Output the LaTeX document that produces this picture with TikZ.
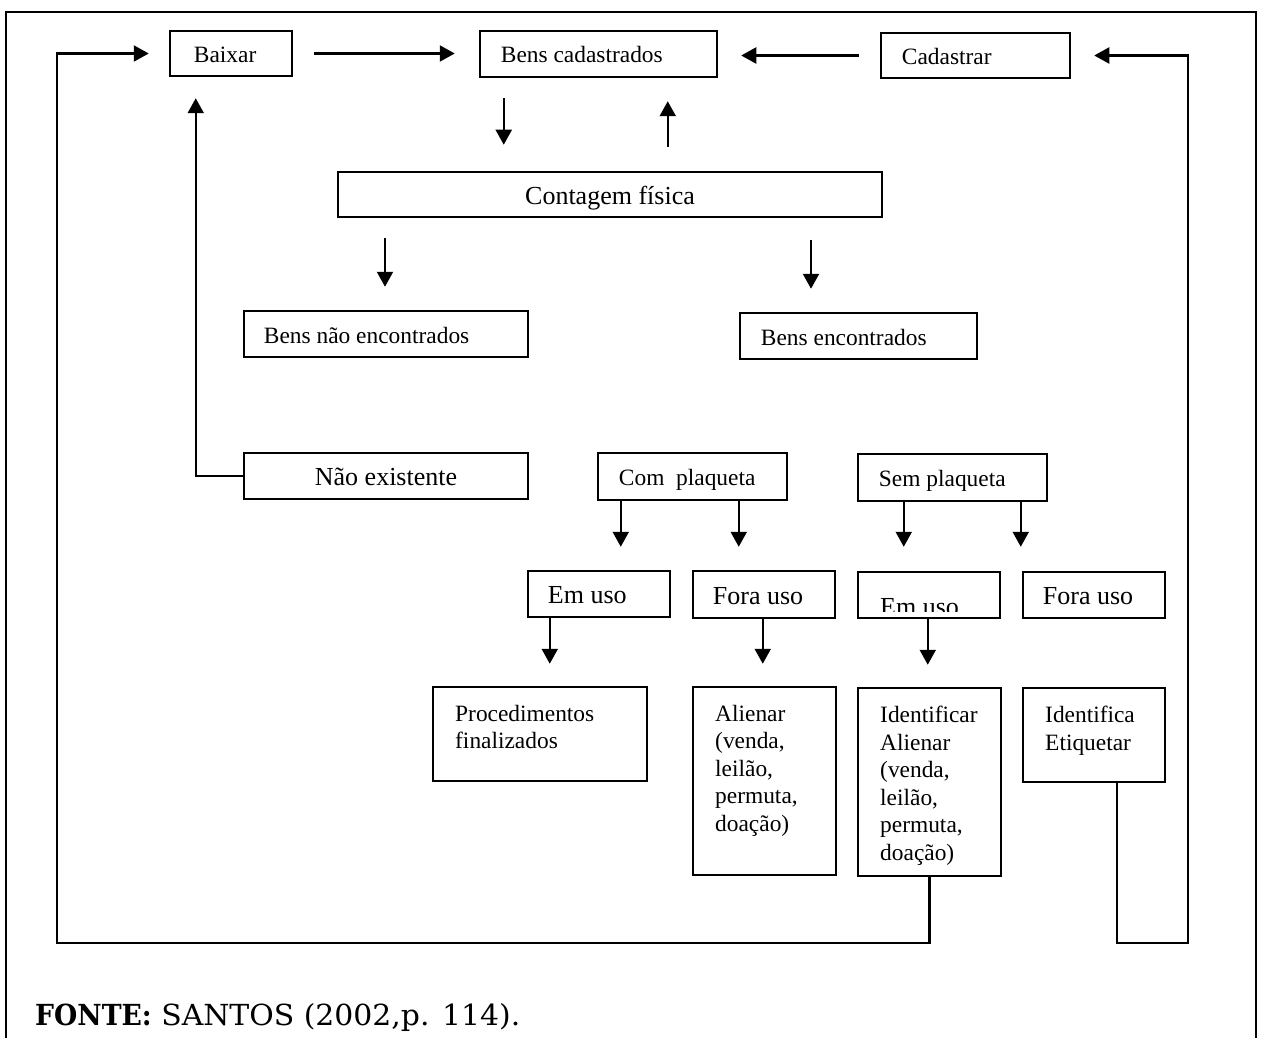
\documentclass[tikz,border=0pt]{standalone}
\usepackage{fontspec}
\setmainfont{Liberation Serif}
\newfontfamily\fonteR[FakeStretch=1.03]{DejaVu Serif}
\newfontfamily\fonteB[FakeStretch=0.92]{DejaVu Serif}
\usetikzlibrary{arrows.meta,calc}
\begin{document}
\begin{tikzpicture}[x=1pt,y=-1pt,
  box/.style={draw, line width=2.5pt, rectangle, inner sep=0pt},
  txt/.style={font=\fontsize{23.4}{27.5}\selectfont, inner sep=0pt, text height=16pt, text depth=5pt, yshift=-3.5pt},
  txtbig/.style={font=\fontsize{26}{30}\selectfont, inner sep=0pt, text height=18pt, text depth=6pt, yshift=-3.5pt},
  multi/.style={font=\fontsize{23.4}{27.5}\selectfont, inner sep=0pt, align=left, anchor=north west},
  arr/.style={line width=2.2pt, -{Triangle[width=16pt,length=15pt]}},
  frame/.style={line width=2pt}]
\useasboundingbox (0,0) rectangle (1263,1038);
\newcommand\mkbox[5]{\node[box, minimum width={#4-#2}, minimum height={#5-#3}] (#1) at ({(#2+#4)/2},{(#3+#5)/2}) {};}
% frame
\draw[frame] (6,1038) -- (6,12) -- (1256,12) -- (1256,1038);
% boxes
\mkbox{baixar}{170}{31}{292}{76}
\mkbox{benscad}{480}{31}{717}{77}
\mkbox{cadastrar}{881}{33}{1070}{78}
\mkbox{contagem}{338}{172}{882}{217}
\mkbox{naoenc}{244}{311}{528}{357}
\mkbox{enc}{740}{313}{977}{359}
\mkbox{naoex}{244}{453}{528}{499}
\mkbox{com}{598}{453}{787}{500}
\mkbox{sem}{858}{454}{1047}{501}
\mkbox{emusoA}{528}{571}{670}{617}
\mkbox{foraA}{693}{571}{835}{618}
\mkbox{emusoB}{858}{572}{1000}{618}
\mkbox{foraB}{1023}{572}{1165}{618}
\mkbox{proc}{433}{687}{647}{781}
\mkbox{alien}{693}{687}{836}{875}
\mkbox{ident}{858}{688}{1001}{876}
\mkbox{etiq}{1023}{688}{1165}{782}
% texts
\node[txt, anchor=west] (t-baixar) at ([xshift=25pt]baixar.west) {Baixar};
\node[txt, anchor=west] (t-benscad) at ([xshift=22pt]benscad.west) {Bens cadastrados};
\node[txt, anchor=west] (t-cadastrar) at ([xshift=22pt]cadastrar.west) {Cadastrar};
\node[txtbig] (t-contagem) at (contagem.center) {Contagem física};
\node[txt, anchor=west] (t-naoenc) at ([xshift=21pt]naoenc.west) {Bens não encontrados};
\node[txt, anchor=west] (t-enc) at ([xshift=22pt]enc.west) {Bens encontrados};
\node[txtbig] (t-naoex) at (naoex.center) {Não existente};
\node[txt, anchor=west] (t-com) at ([xshift=22pt]com.west) {Com\ \ plaqueta};
\node[txt, anchor=west] (t-sem) at ([xshift=22pt]sem.west) {Sem plaqueta};
\node[txtbig, anchor=west] (t-emusoA) at ([xshift=21pt]emusoA.west) {Em uso};
\node[txtbig, anchor=west] (t-foraA) at ([xshift=21pt]foraA.west) {Fora uso};
\begin{scope}
  \clip (860,574) rectangle (998,611);
  \node[font=\fontsize{26}{30}\selectfont, inner sep=0pt, anchor=base west] (t-emusoB) at (880,615) {Em uso};
\end{scope}
\node[txtbig, anchor=west] (t-foraB) at ([xshift=21pt]foraB.west) {Fora uso};
\node[multi] (t-proc) at (455,705) {Procedimentos\\finalizados};
\node[multi] (t-alien) at (715,705) {Alienar\\(venda,\\leilão,\\permuta,\\doação)};
\node[multi] (t-ident) at (880,706) {Identificar\\Alienar\\(venda,\\leilão,\\permuta,\\doação)};
\node[multi] (t-etiq) at (1045,706) {Identifica\\Etiquetar};
% helper coordinates
\coordinate (cA) at ([xshift=25pt]benscad.south west);
\coordinate (cB) at ([xshift=189pt]benscad.south west);
\coordinate (cC) at (385,217);
\coordinate (cD) at (811,217);
\coordinate (cE) at ([xshift=27pt]baixar.south west);
\coordinate (cF) at ([xshift=24pt]com.south west);
\coordinate (cG) at ([xshift=142pt]com.south west);
\coordinate (cH) at ([xshift=47pt]sem.south west);
\coordinate (cI) at ([xshift=164pt]sem.south west);
\coordinate (cJ) at ([xshift=23pt]emusoA.south west);
\coordinate (cK) at ([xshift=71pt]foraA.south west);
\coordinate (cL) at ([xshift=71pt]emusoB.south west);
\coordinate (cM) at ([xshift=95pt]etiq.south west);
\coordinate (lb) at (57,943);
\coordinate (rb) at (1188,943);
% connectors
\draw[arr, shorten <=21pt, shorten >=24pt] (baixar.east) -- (baixar.east -| benscad.west);
\draw[arr, shorten <=21pt, shorten >=23pt] (cadastrar.west) -- (cadastrar.west -| benscad.east);
\draw[arr, shorten <=20pt, shorten >=26pt] (cA) -- (cA |- contagem.north);
\draw[arr, shorten <=24pt, shorten >=23pt] (cB |- contagem.north) -- (cB);
\draw[arr, shorten <=21pt, shorten >=23pt] (cC) -- (cC |- naoenc.north);
\draw[arr, shorten <=23pt, shorten >=23pt] (cD) -- (cD |- enc.north);
\draw[arr, shorten >=21pt] (naoex.west) -| (cE);
\draw[arr, shorten >=23pt] (cF) -- (cF |- emusoA.north);
\draw[arr, shorten >=23pt] (cG) -- (cG |- foraA.north);
\draw[arr, shorten >=24pt] (cH) -- (cH |- emusoB.north);
\draw[arr, shorten >=24pt] (cI) -- (cI |- foraB.north);
\draw[arr, shorten >=22pt] (cJ) -- (cJ |- proc.north);
\draw[arr, shorten >=22pt] (cK) -- (cK |- alien.north);
\draw[arr, shorten >=22pt] (cL) -- (cL |- ident.north);
\draw[arr, shorten >=20pt] (ident.south) -- (ident.south |- lb) -- (lb) |- (baixar.west);
\draw[arr, shorten >=23pt] (cM) -- (cM |- rb) -- (rb) |- (cadastrar.east);
% source
\node[anchor=base west, inner sep=0pt, font=\fonteR\fontsize{29}{34}\selectfont] (fonte) at (35,1025) {{\fonteB\bfseries FONTE:} SANTOS (2002,p. 114).};
\end{tikzpicture}
\end{document}
